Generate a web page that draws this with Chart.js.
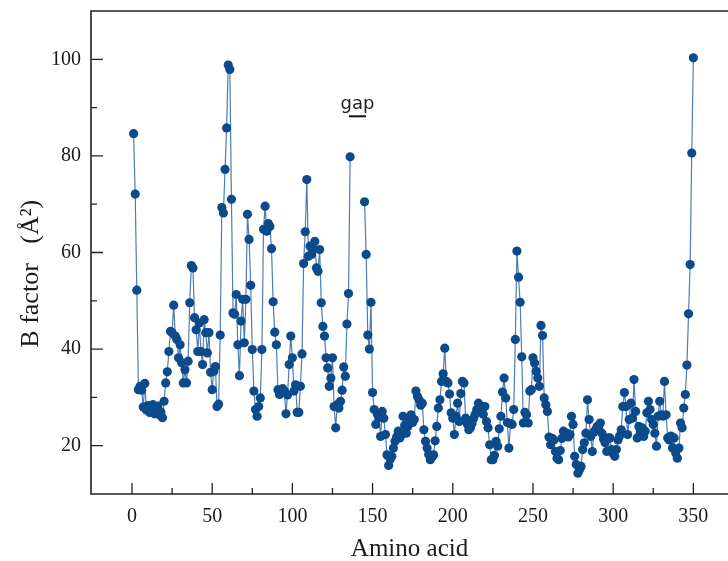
<!DOCTYPE html>
<html>
<head>
<meta charset="utf-8">
<script src="https://cdn.jsdelivr.net/npm/chart.js@4.4.1/dist/chart.umd.min.js"></script>
<style>
  html, body { margin: 0; padding: 0; background: #fff; }
  #wrap { width: 728px; height: 561px; }
</style>
</head>
<body>
<div id="wrap"><canvas id="bFactorChart" width="728" height="561"></canvas></div>
<script>
// residues 1..136, then a gap, then residues 145..350
const firstResidue = 1;
const bFactorBeforeGap = [
  84.6, 72.1, 52.2, 31.6, 32.3, 31.5, 28.0, 32.9, 27.4, 28.3,
  26.9, 27.8, 28.5, 26.6, 27.3, 28.2, 26.4, 27.0, 25.8, 29.2,
  33.0, 35.3, 39.5, 43.7, 43.4, 49.1, 42.7, 42.0, 38.2, 40.9,
  37.2, 33.0, 35.7, 33.0, 37.5, 49.6, 57.3, 56.8, 46.5, 44.0,
  39.5, 45.4, 39.5, 36.8, 46.1, 43.4, 39.2, 43.4, 35.2, 31.6,
  35.4, 36.4, 28.1, 28.6, 42.9, 69.3, 68.2, 77.2, 85.8, 98.8,
  97.9, 71.0, 47.5, 47.2, 51.3, 40.9, 34.5, 45.8, 50.3, 41.3,
  50.3, 67.9, 62.7, 53.2, 39.9, 31.3, 27.5, 26.1, 28.1, 29.9,
  39.9, 64.8, 69.6, 64.4, 66.0, 65.4, 60.8, 49.8, 43.5, 40.9,
  31.6, 30.6, 31.0, 31.8, 31.3, 26.6, 30.5, 36.8, 42.7, 38.2,
  31.3, 32.6, 26.9, 26.9, 32.3, 39.0, 57.7, 64.3, 75.1, 59.2,
  61.3, 59.6, 60.6, 62.3, 56.8, 56.1, 60.6, 49.6, 44.7, 42.7,
  38.2, 36.1, 32.3, 34.0, 38.2, 28.1, 23.7, 28.5, 27.8, 29.2,
  31.5, 36.3, 34.4, 45.2, 51.5, 79.8
];
const resumeResidue = 145;
const bFactorAfterGap = [
  70.5, 59.6, 42.9, 40.0, 49.7, 31.0, 27.5, 24.4, 26.5, 25.8,
  21.9, 27.1, 25.7, 22.3, 18.1, 15.9, 17.2, 17.8, 19.5, 20.9,
  21.8, 23.0, 21.6, 22.3, 26.1, 24.2, 22.6, 24.0, 25.1, 26.4,
  24.8, 25.4, 31.3, 30.2, 29.5, 28.4, 28.8, 23.3, 20.9, 19.5,
  18.2, 17.1, 17.6, 18.1, 21.0, 24.0, 27.8, 29.5, 33.3, 34.9,
  40.2, 33.3, 33.0, 30.7, 26.8, 25.7, 22.3, 26.1, 28.8, 25.0,
  30.8, 33.3, 33.0, 25.7, 24.5, 23.3, 23.7, 24.6, 25.7, 26.5,
  27.5, 28.8, 27.0, 28.1, 26.5, 28.1, 25.0, 23.7, 20.2, 17.1,
  17.1, 18.0, 20.9, 19.9, 23.5, 26.1, 31.1, 34.0, 29.9, 24.8,
  19.5, 24.6, 24.4, 27.5, 42.0, 60.3, 54.9, 49.7, 38.4, 24.7,
  26.9, 26.4, 24.7, 31.3, 31.6, 38.2, 37.1, 35.4, 34.0, 32.3,
  44.9, 42.8, 29.9, 28.5, 27.1, 21.8, 20.2, 21.5, 21.2, 18.8,
  17.4, 17.1, 19.0, 21.5, 23.0, 22.1, 22.6, 21.8, 22.3, 26.1,
  24.4, 17.8, 16.1, 14.3, 15.0, 15.7, 19.2, 20.6, 22.6, 29.5,
  25.4, 21.9, 18.8, 22.8, 23.3, 24.0, 23.5, 24.7, 22.6, 21.4,
  20.6, 18.8, 21.6, 21.6, 19.2, 18.4, 17.8, 19.2, 21.2, 22.0,
  23.3, 28.1, 31.0, 28.1, 22.3, 25.4, 28.8, 25.7, 33.7, 27.1,
  21.6, 24.0, 22.8, 23.7, 21.9, 23.0, 26.8, 29.2, 27.5, 25.4,
  24.4, 22.6, 19.9, 26.1, 29.2, 26.4, 26.1, 33.3, 26.4, 21.6,
  21.2, 22.0, 19.5, 21.6, 18.5, 17.4, 19.5, 24.7, 23.7, 27.8,
  30.6, 36.7, 47.3, 57.5, 80.6, 100.3
];

const xMajorTicks = [0, 50, 100, 150, 200, 250, 300, 350];
const xMinorTicks = [25, 75, 125, 175, 225, 275, 325];
const yMajorTicks = [20, 40, 60, 80, 100];
const yMinorTicks = [30, 50, 70, 90];
const gapSpan = [135.3, 145.9];
const gapText = 'gap';
const yTitle = 'B factor   (Å²)';

const serif = "'Liberation Serif', 'Times New Roman', serif";

const points = [];
bFactorBeforeGap.forEach((v, i) => points.push({ x: firstResidue + i, y: v }));
points.push({ x: 140, y: null });
bFactorAfterGap.forEach((v, i) => points.push({ x: resumeResidue + i, y: v }));

// no extra label padding around the plot box
const noLabelPadding = s => {
  s.paddingTop = 0; s.paddingBottom = 0; s.paddingLeft = 0; s.paddingRight = 0;
};

const frameAndTicks = {
  id: 'frameAndTicks',
  afterDraw(chart) {
    const { ctx, chartArea: a, scales: { x, y } } = chart;
    ctx.save();
    ctx.strokeStyle = '#222';
    ctx.lineWidth = 1.6;
    ctx.beginPath();
    ctx.moveTo(a.right + 2, a.top);
    ctx.lineTo(a.left, a.top);
    ctx.lineTo(a.left, a.bottom);
    ctx.lineTo(a.right + 2, a.bottom);
    ctx.stroke();

    ctx.lineWidth = 1.3;
    ctx.beginPath();
    xMajorTicks.forEach(v => { const p = x.getPixelForValue(v); ctx.moveTo(p, a.bottom); ctx.lineTo(p, a.bottom - 11); });
    xMinorTicks.forEach(v => { const p = x.getPixelForValue(v); ctx.moveTo(p, a.bottom); ctx.lineTo(p, a.bottom - 6); });
    yMajorTicks.forEach(v => { const p = y.getPixelForValue(v); ctx.moveTo(a.left, p); ctx.lineTo(a.left + 12, p); });
    yMinorTicks.forEach(v => { const p = y.getPixelForValue(v); ctx.moveTo(a.left, p); ctx.lineTo(a.left + 6, p); });
    ctx.stroke();

    // gap marker
    const g0 = x.getPixelForValue(gapSpan[0]);
    const g1 = x.getPixelForValue(gapSpan[1]);
    const gy = y.getPixelForValue(88.2);
    ctx.lineWidth = 2;
    ctx.strokeStyle = '#111';
    ctx.beginPath();
    ctx.moveTo(g0, gy);
    ctx.lineTo(g1, gy);
    ctx.stroke();
    ctx.fillStyle = '#222';
    ctx.font = "18px 'DejaVu Sans', sans-serif";
    ctx.textAlign = 'center';
    ctx.textBaseline = 'alphabetic';
    ctx.fillText(gapText, (g0 + g1) / 2, gy - 7);

    // y axis title
    ctx.translate(31, y.getPixelForValue(55.6));
    ctx.rotate(-Math.PI / 2);
    ctx.fillStyle = '#1a1a1a';
    ctx.font = '26px ' + serif;
    ctx.textBaseline = 'middle';
    ctx.fillText(yTitle, 0, 0);
    ctx.restore();
  }
};

new Chart(document.getElementById('bFactorChart').getContext('2d'), {
  type: 'line',
  data: {
    datasets: [{
      data: points,
      borderColor: '#4d7db5',
      borderWidth: 1.2,
      pointRadius: 4.6,
      pointBackgroundColor: '#0b4a8b',
      pointBorderColor: '#0b4a8b',
      pointBorderWidth: 0,
      spanGaps: false,
      tension: 0,
    }],
  },
  options: {
    responsive: false,
    animation: false,
    devicePixelRatio: 1,
    layout: { autoPadding: false, padding: { top: 11, right: 0, left: 0, bottom: 0 } },
    plugins: { legend: { display: false }, tooltip: { enabled: false } },
    scales: {
      x: {
        type: 'linear',
        min: -25.56,
        max: 371.6,
        afterFit: s => { s.height = 67; noLabelPadding(s); },
        afterBuildTicks: s => { s.ticks = xMajorTicks.map(v => ({ value: v })); },
        grid: { display: false, drawTicks: false },
        border: { display: false },
        ticks: { color: '#1a1a1a', font: { family: serif, size: 20 }, padding: 11, maxRotation: 0, autoSkip: false },
        title: { display: true, text: 'Amino acid', color: '#1a1a1a', font: { family: serif, size: 25 }, padding: { top: 0, bottom: -3 } },
      },
      y: {
        min: 10,
        max: 110,
        afterFit: s => { s.width = 91; noLabelPadding(s); },
        afterBuildTicks: s => { s.ticks = yMajorTicks.map(v => ({ value: v })); },
        grid: { display: false, drawTicks: false },
        border: { display: false },
        ticks: { color: '#1a1a1a', font: { family: serif, size: 20 }, padding: 10 },
      },
    },
  },
  plugins: [frameAndTicks],
});
</script>
</body>
</html>
